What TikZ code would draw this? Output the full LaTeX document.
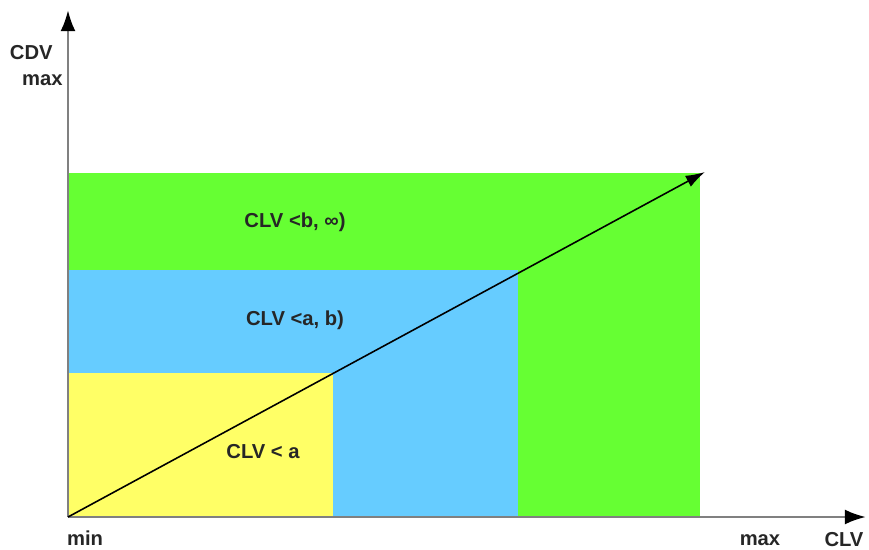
\documentclass[tikz,border=0pt]{standalone}
\usepackage{fontspec}
\setmainfont{Liberation Sans}
\usetikzlibrary{arrows.meta}

\definecolor{zonegreen}{RGB}{102,255,51}
\definecolor{zoneblue}{RGB}{102,204,255}
\definecolor{zoneyellow}{RGB}{255,255,102}

\tikzset{
  axis/.style={draw=gray, line width=1.5pt, -{Latex[black,length=12pt,width=8.5pt]}},
  lbl/.style={font=\bfseries\fontsize{11.5}{13}\selectfont, text=black!85, inner sep=0pt},
}

\begin{document}
\begin{tikzpicture}[x=0.02cm,y=0.02cm]
\useasboundingbox (-68,-32) rectangle (801,517);

% value zones, biggest first
\fill[zonegreen] (0,0) rectangle (632,344);
\fill[zoneblue] (0,0) rectangle (450,247);
\fill[zoneyellow] (0,0) rectangle (265,144);

\coordinate (O) at (0,0);
\coordinate (xend) at (798,0);
\coordinate (yend) at (0,507);
\coordinate (tip) at (637,345);

% axes
\draw[axis] (O) -- (xend);
\draw[axis] (O) -- (yend);

\draw[line width=0.9pt, -{Latex[length=11pt,width=7pt]}] (O) -- (tip);

\node[lbl, anchor=east] (cdv) at (-15,464) {CDV};
\node[lbl, anchor=east] (ymax) at (-5,437) {max};
\node[lbl] (xmin) at (17,-21) {min};
\node[lbl] (xmax) at (692,-23) {max};
\node[lbl] (clv) at (776,-23) {CLV};

\node[lbl] (zc) at (227,295) {CLV <b, ∞)};
\node[lbl] (zb) at (227,197) {CLV <a, b)};
\node[lbl] (za) at (195,65) {CLV < a};
\end{tikzpicture}
\end{document}
